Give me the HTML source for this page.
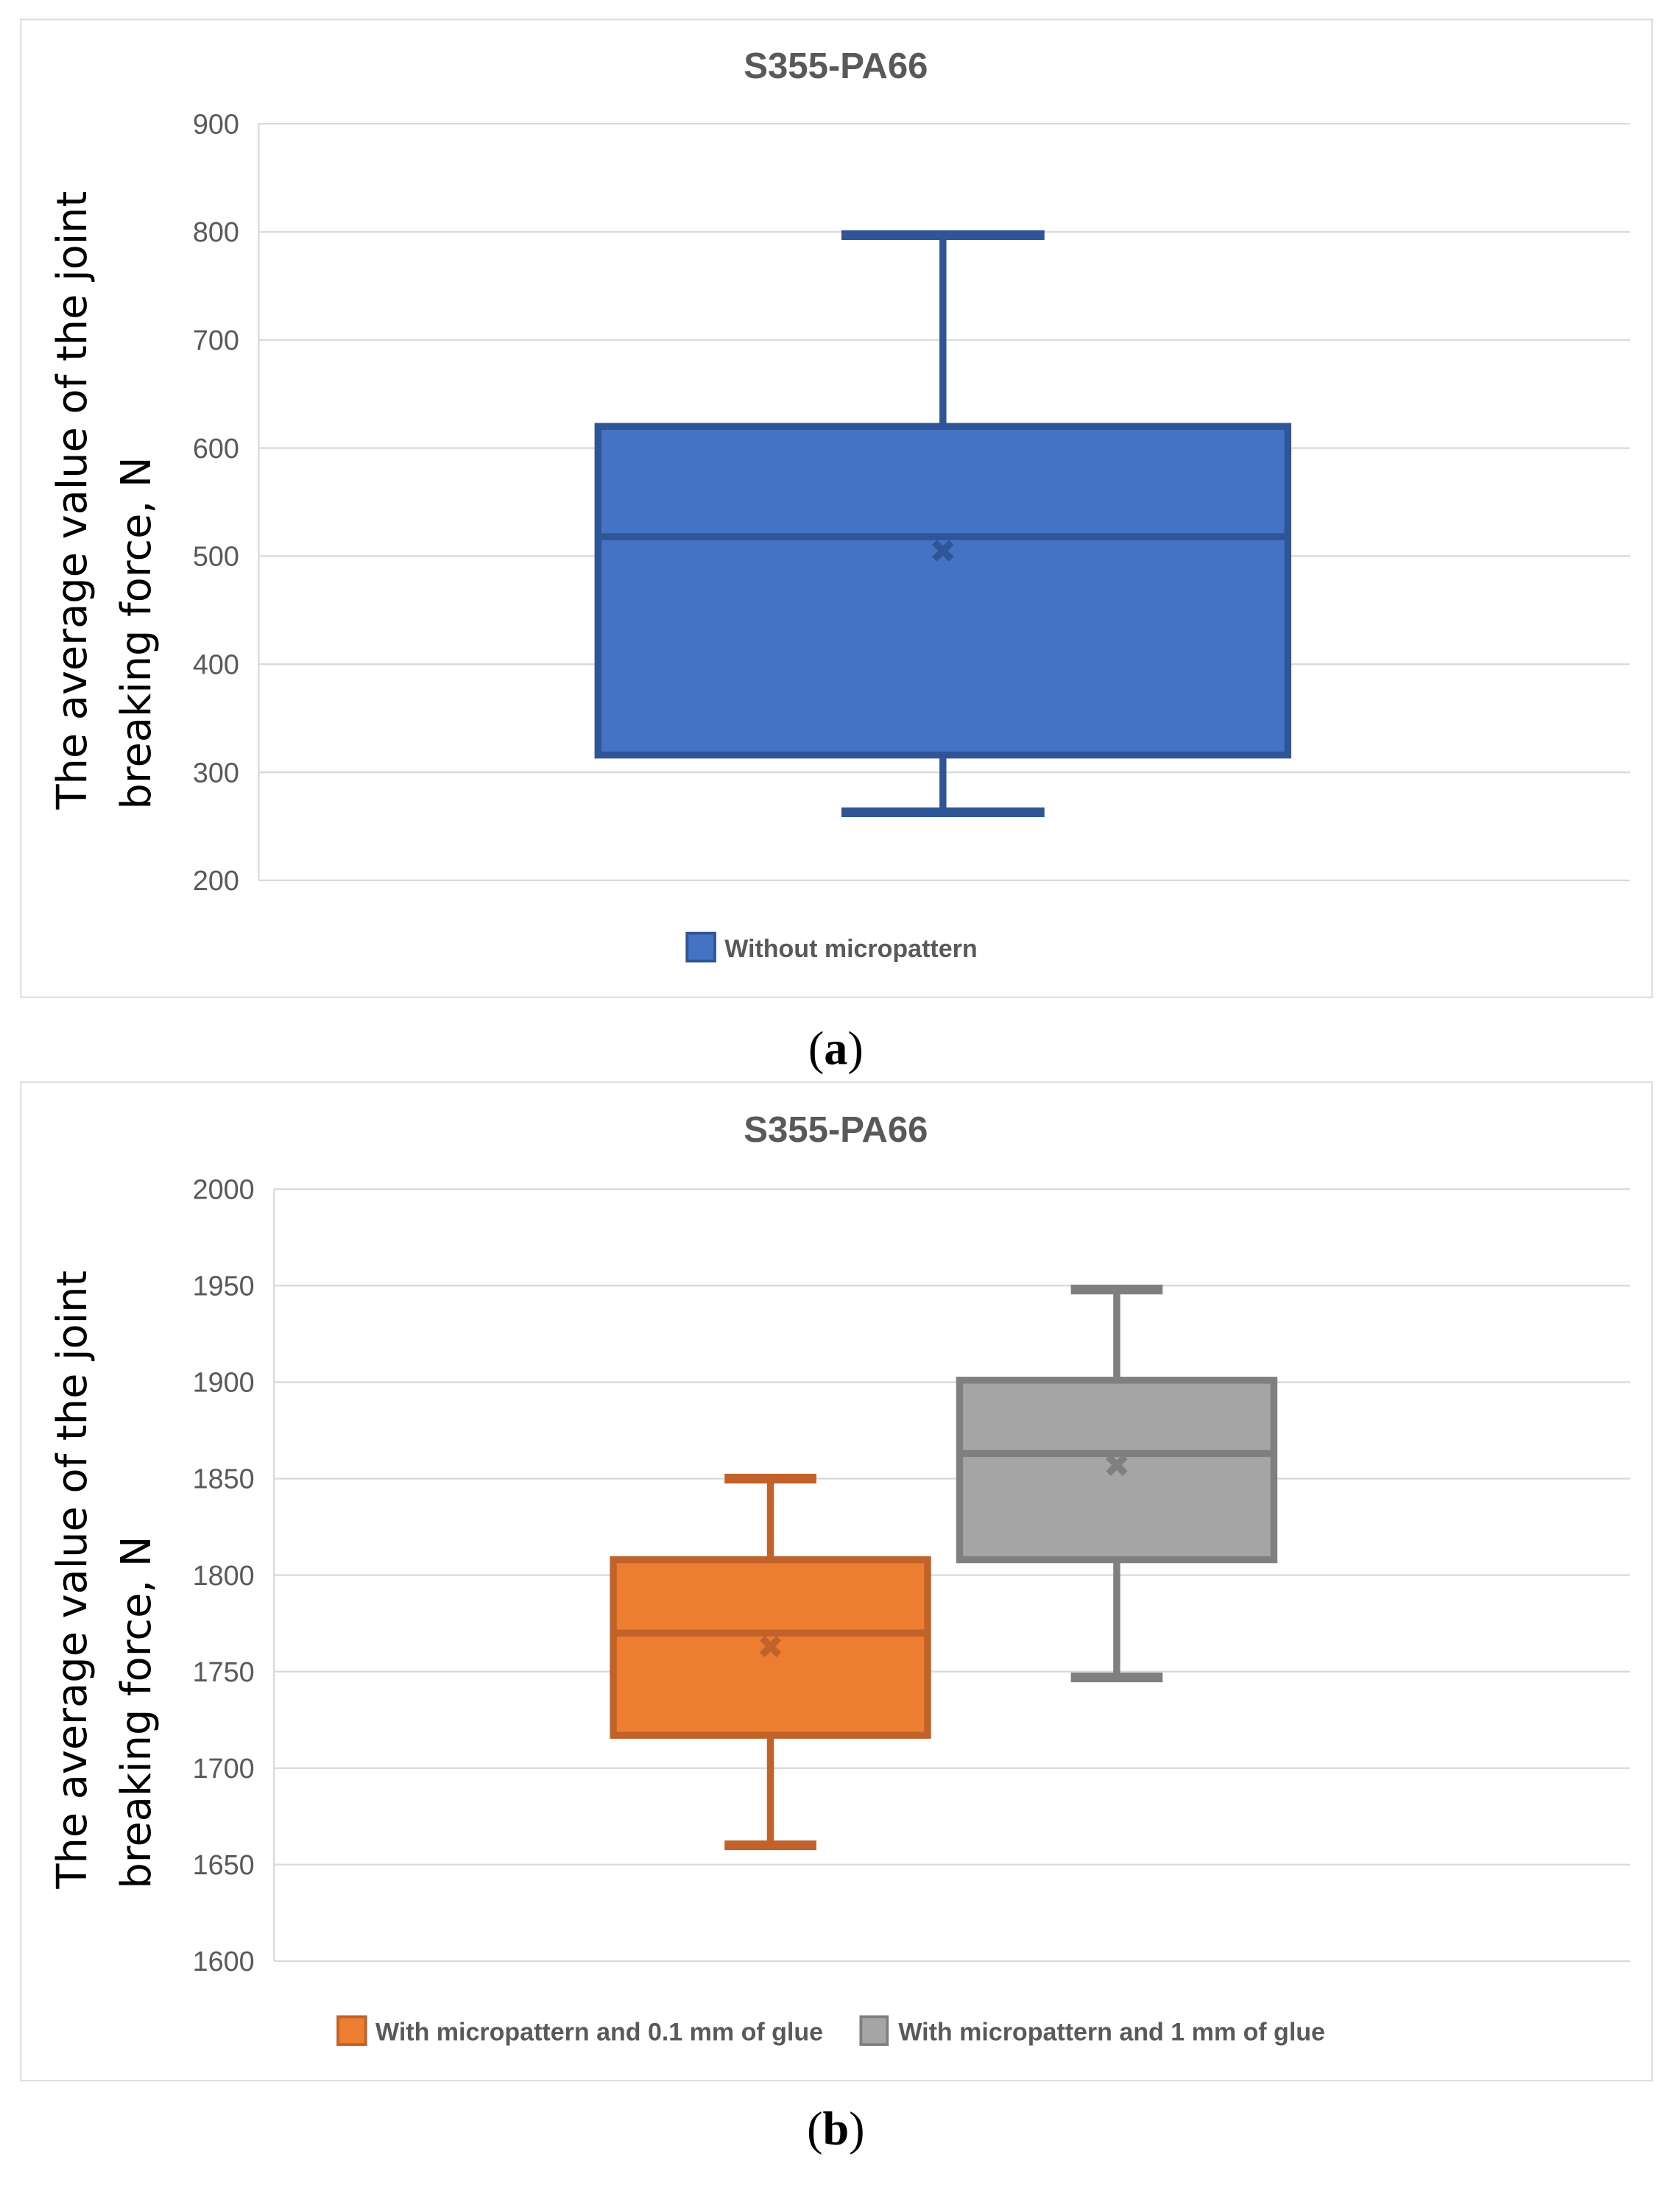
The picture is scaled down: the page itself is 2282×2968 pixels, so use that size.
<!DOCTYPE html>
<html><head><meta charset="utf-8"><style>html,body{margin:0;padding:0;background:#fff}svg{display:block}</style></head>
<body>
<svg id="s" width="2282" height="2968" viewBox="0 0 1208 1571" preserveAspectRatio="none" xmlns="http://www.w3.org/2000/svg" font-family="Liberation Sans, sans-serif">
<rect x="15" y="14" width="1173" height="703" fill="#fff" stroke="#d9d9d9"/>
<rect x="15" y="778" width="1173" height="718" fill="#fff" stroke="#d9d9d9"/>
<text x="601" y="56" text-anchor="middle" font-size="26" font-weight="bold" fill="#595959">S355-PA66</text>
<text x="601" y="821" text-anchor="middle" font-size="26" font-weight="bold" fill="#595959">S355-PA66</text>
<g transform="translate(62,582) rotate(-90)"><text text-anchor="start" font-size="29.5" fill="#000" font-family="DejaVu Sans, sans-serif"><tspan x="0" y="0">The average value of the joint</tspan><tspan x="0" y="46">breaking force, N</tspan></text></g>
<g transform="translate(62,1358) rotate(-90)"><text text-anchor="start" font-size="29.5" fill="#000" font-family="DejaVu Sans, sans-serif"><tspan x="0" y="0">The average value of the joint</tspan><tspan x="0" y="46">breaking force, N</tspan></text></g>
<text x="601" y="765" text-anchor="middle" font-size="34" font-family="Liberation Serif, serif">(<tspan font-weight="bold">a</tspan>)</text>
<text x="601" y="1542" text-anchor="middle" font-size="34" font-family="Liberation Serif, serif">(<tspan font-weight="bold">b</tspan>)</text>
<g id="ga"></g><g id="gb"></g>
<g>
<rect x="494" y="671" width="20" height="20" fill="#4472C4" stroke="#2F5597" stroke-width="2"/>
<text x="521" y="688" font-size="18" font-weight="bold" fill="#595959">Without micropattern</text></g>
<g>
<rect x="243" y="1450" width="20" height="20" fill="#ED7D31" stroke="#C0622A" stroke-width="2"/>
<text x="270" y="1467" font-size="18" font-weight="bold" fill="#595959">With micropattern and 0.1 mm of glue</text>
<rect x="619" y="1450" width="19" height="20" fill="#A5A5A5" stroke="#7F7F7F" stroke-width="2"/>
<text x="646" y="1467" font-size="18" font-weight="bold" fill="#595959">With micropattern and 1 mm of glue</text></g>
</svg>
<script>
const ticksA=[200,300,400,500,600,700,800,900];
const ticksB=[1600,1650,1700,1750,1800,1850,1900,1950,2000];
const seriesA=["Without micropattern"];
const minA=[263],q1A=[316],medA=[518],q3A=[620],maxA=[797],meanA=[505];
const seriesB=["With micropattern and 0.1 mm of glue","With micropattern and 1 mm of glue"];
const minB=[1660,1747],q1B=[1717,1808],medB=[1770,1863],q3B=[1808,1901],maxB=[1850,1948],meanB=[1763,1857];
const NS="http://www.w3.org/2000/svg";
function mk(p,t,a){const e=document.createElementNS(NS,t);for(const k in a)e.setAttribute(k,a[k]);p.appendChild(e);return e;}
function chart(g,cfg){
 const y=v=>cfg.y0+(v-cfg.vmin)/(cfg.vmax-cfg.vmin)*(cfg.y1-cfg.y0);
 cfg.ticks.forEach(t=>{
  const l=mk(g,'line',{x1:cfg.x0,x2:cfg.x1,y1:y(t),y2:y(t),stroke:'#d9d9d9','stroke-width':1.2});
  
  
  const tx=mk(g,'text',{x:cfg.x0-14,y:y(t)+7,'text-anchor':'end','font-size':20,fill:'#595959'});tx.textContent=t;
  
  
 });
 const ax=mk(g,'line',{x1:cfg.x0,x2:cfg.x0,y1:cfg.y0,y2:cfg.y1,stroke:'#d9d9d9','stroke-width':1.2});
 
 
 cfg.names.forEach((n,i)=>{
  const b=mk(g,'g',{});
  
  
  const cx=cfg.cx[i],hw=cfg.hw,cw=cfg.cw,st=cfg.st[i],sw=5;
  mk(b,'line',{x1:cx,x2:cx,y1:y(cfg.max[i]),y2:y(cfg.q3[i]),stroke:st,'stroke-width':sw});
  mk(b,'line',{x1:cx,x2:cx,y1:y(cfg.q1[i]),y2:y(cfg.min[i]),stroke:st,'stroke-width':sw});
  mk(b,'line',{x1:cx-cw,x2:cx+cw,y1:y(cfg.max[i]),y2:y(cfg.max[i]),stroke:st,'stroke-width':7});
  mk(b,'line',{x1:cx-cw,x2:cx+cw,y1:y(cfg.min[i]),y2:y(cfg.min[i]),stroke:st,'stroke-width':7});
  mk(b,'rect',{x:cx-hw,y:y(cfg.q3[i]),width:2*hw,height:y(cfg.q1[i])-y(cfg.q3[i]),fill:cfg.fill[i],stroke:st,'stroke-width':sw});
  mk(b,'line',{x1:cx-hw,x2:cx+hw,y1:y(cfg.med[i]),y2:y(cfg.med[i]),stroke:st,'stroke-width':sw});
  const my=y(cfg.mean[i]);
  mk(b,'path',{d:`M${cx-6},${my-6}L${cx+6},${my+6}M${cx+6},${my-6}L${cx-6},${my+6}`,stroke:st,'stroke-width':5});
 });
}
chart(document.getElementById('ga'),{x0:186,x1:1172,y0:633,y1:89,vmin:200,vmax:900,ticks:ticksA,names:seriesA,cx:[678],hw:248,cw:73,
 min:minA,q1:q1A,med:medA,q3:q3A,max:maxA,mean:meanA,fill:['#4472C4'],st:['#2F5597']});
chart(document.getElementById('gb'),{x0:197,x1:1172,y0:1410,y1:855,vmin:1600,vmax:2000,ticks:ticksB,names:seriesB,cx:[554,803],hw:113,cw:33,
 min:minB,q1:q1B,med:medB,q3:q3B,max:maxB,mean:meanB,fill:['#ED7D31','#A5A5A5'],st:['#C0622A','#7F7F7F']});
</script>
</body></html>
